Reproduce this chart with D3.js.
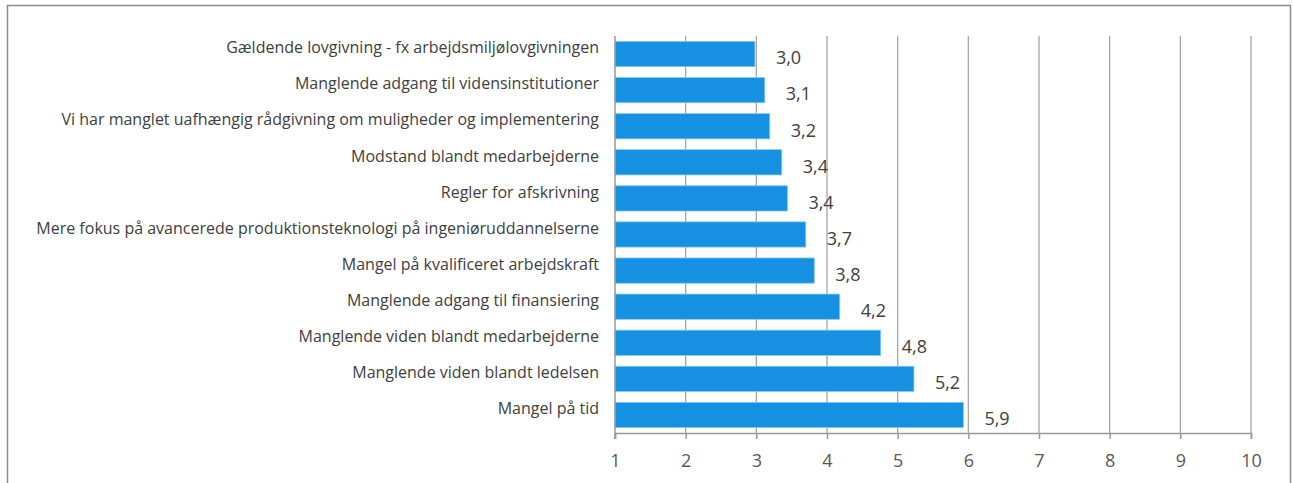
<!DOCTYPE html>
<html>
<head>
<meta charset="utf-8">
<script src="https://cdn.jsdelivr.net/npm/d3@7/dist/d3.min.js"></script>
<style>
  html, body { margin: 0; padding: 0; background: #fff; }
  svg { display: block; }
</style>
</head>
<body>
<svg id="chart" width="1293" height="483"></svg>
<script>
const categories = [
  "Gældende lovgivning - fx arbejdsmiljølovgivningen",
  "Manglende adgang til vidensinstitutioner",
  "Vi har manglet uafhængig rådgivning om muligheder og implementering",
  "Modstand blandt medarbejderne",
  "Regler for afskrivning",
  "Mere fokus på avancerede produktionsteknologi på ingeniøruddannelserne",
  "Mangel på kvalificeret arbejdskraft",
  "Manglende adgang til finansiering",
  "Manglende viden blandt medarbejderne",
  "Manglende viden blandt ledelsen",
  "Mangel på tid"
];
const values = [2.98, 3.12, 3.19, 3.36, 3.44, 3.70, 3.82, 4.18, 4.76, 5.23, 5.93];
const xTicks = [1, 2, 3, 4, 5, 6, 7, 8, 9, 10];

const svg = d3.select("#chart");
const plot = { left: 615, right: 1251, top: 36, bottom: 433 };
const font = "'Open Sans', 'Noto Sans', sans-serif";

// outer frame
svg.append("rect")
  .attr("x", 7.5).attr("y", 5.5)
  .attr("width", 1283).attr("height", 500)
  .attr("fill", "none").attr("stroke", "#8c8c8c").attr("stroke-width", 1.5);

const x = d3.scaleLinear().domain([1, 10]).range([plot.left, plot.right]);
const y = d3.scaleBand().domain(categories).range([plot.top, plot.bottom])
  .paddingInner(0.3).paddingOuter(0.15);

// gridlines
svg.append("g").selectAll("line")
  .data(xTicks.filter(t => t !== 1))
  .join("line")
  .attr("x1", d => x(d)).attr("x2", d => x(d))
  .attr("y1", plot.top).attr("y2", plot.bottom)
  .attr("stroke", "#a6a6a6").attr("stroke-width", 1.3);

// bars
svg.append("g").selectAll("rect")
  .data(values)
  .join("rect")
  .attr("x", x(1))
  .attr("y", (d, i) => y(categories[i]))
  .attr("width", d => x(d) - x(1))
  .attr("height", y.bandwidth())
  .attr("fill", "#1690e0")
  .attr("stroke", "#8cc8f0").attr("stroke-width", 0.8);

// x axis
const xAxis = d3.axisBottom(x).tickValues(xTicks).tickSize(6).tickPadding(15)
  .tickFormat(d3.format("d"));
const gx = svg.append("g").attr("transform", `translate(0,${plot.bottom})`).call(xAxis);
gx.select(".domain").attr("stroke", "#999").attr("stroke-width", 1.5);
gx.selectAll(".tick line").attr("stroke", "#999").attr("stroke-width", 1.5);
gx.selectAll(".tick text")
  .attr("fill", "#595959").attr("font-size", "18px").attr("font-family", font);

// y axis (left line)
const yAxis = d3.axisLeft(y).tickSize(0).tickPadding(16);
const gy = svg.append("g").attr("transform", `translate(${plot.left},0)`).call(yAxis);
gy.select(".domain").remove();
gy.selectAll(".tick text")
  .attr("fill", "#404040").attr("font-size", "16px").attr("font-family", font)
  .attr("dy", "-0.05em");
svg.append("line")
  .attr("x1", plot.left).attr("x2", plot.left)
  .attr("y1", plot.top).attr("y2", plot.bottom + 6)
  .attr("stroke", "#999").attr("stroke-width", 1.5);

// value labels
const fmt = v => d3.format(".1f")(v).replace(".", ",");
svg.append("g").selectAll("text")
  .data(values)
  .join("text")
  .attr("x", d => x(d) + 21)
  .attr("y", (d, i) => y(categories[i]) + y.bandwidth() / 2 + 4)
  .attr("dy", "0.35em")
  .attr("fill", "#404040").attr("font-size", "18px").attr("font-family", font)
  .text(fmt);
</script>
</body>
</html>
